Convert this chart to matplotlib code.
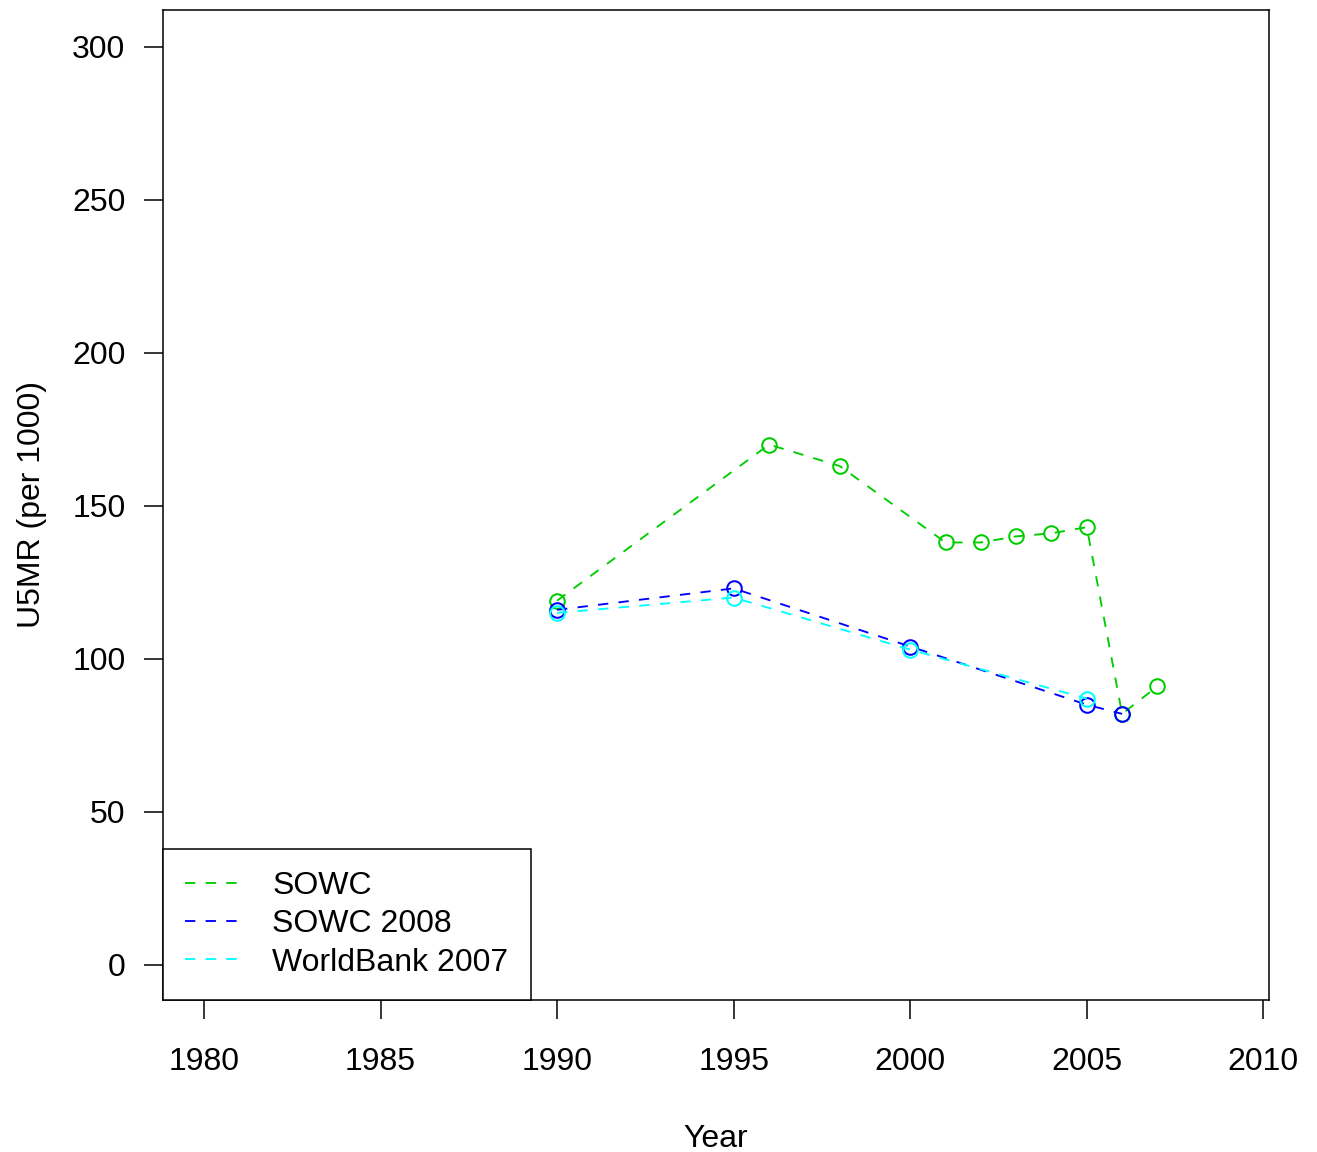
import matplotlib
matplotlib.use("Agg")
import matplotlib.pyplot as plt
from matplotlib.lines import Line2D

plt.rcParams['font.family'] = ['Liberation Sans', 'DejaVu Sans']

sowc_years = [1990, 1996, 1998, 2001, 2002, 2003, 2004, 2005, 2006, 2007]
sowc_vals = [119, 170, 163, 138, 138, 140, 141, 143, 82, 91]
sowc08_years = [1990, 1995, 2000, 2005, 2006]
sowc08_vals = [116, 123, 104, 85, 82]
wb_years = [1990, 1995, 2000, 2005]
wb_vals = [115, 120, 103, 87]

series = [
    ("SOWC", sowc_years, sowc_vals, "#00CD00"),
    ("SOWC 2008", sowc08_years, sowc08_vals, "#0000FF"),
    ("WorldBank 2007", wb_years, wb_vals, "#00FFFF"),
]

xticks = [1980, 1985, 1990, 1995, 2000, 2005, 2010]
yticks = [0, 50, 100, 150, 200, 250, 300]

fig = plt.figure(figsize=(13.17, 11.52), dpi=100)
ax = fig.add_axes([163/1317, 1 - 1000/1152, (1269-163)/1317, (1000-10)/1152])

dash = (0, (5.5, 5.5))
for name, xs, ys, col in series:
    ax.plot(xs, ys, linestyle=dash, color=col, lw=1.35)
    ax.plot(xs, ys, linestyle='none', marker='o', markersize=10.5,
            markerfacecolor='none', markeredgecolor=col, markeredgewidth=1.45)

ax.set_xlim(1978.84, 2010.16)
ax.set_ylim(-11.5, 312)
ax.set_xticks(xticks)
ax.set_yticks(yticks)
ax.tick_params(direction='out', length=14, width=1.1, labelsize=23, color='black')
ax.tick_params(axis='x', pad=20)
ax.tick_params(axis='y', pad=13)
for s in ax.spines.values():
    s.set_linewidth(1.1)

ax.set_xlabel("Year", fontsize=23, labelpad=34)
ax.set_ylabel("U5MR (per 1000)", fontsize=23, labelpad=18)

handles = [Line2D([0], [0], color=c, lw=1.35, linestyle=dash) for _, _, _, c in series]
labels = [n for n, _, _, _ in series]
leg = ax.legend(handles, labels, loc='lower left', bbox_to_anchor=(0, 0),
                borderaxespad=0, fancybox=False, edgecolor='black', framealpha=1,
                fontsize=23, handlelength=1.66, handletextpad=1.06,
                labelspacing=0.26, borderpad=0.7)
leg.get_frame().set_linewidth(1.1)

fig.savefig("out.png", dpi=100)
